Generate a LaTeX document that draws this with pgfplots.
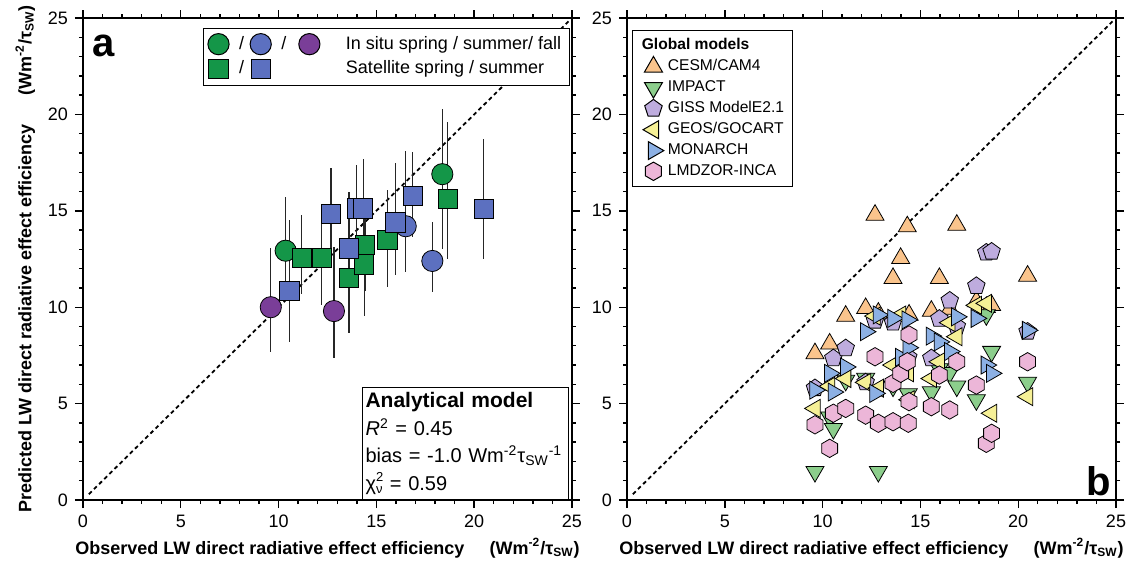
\documentclass[border=0pt]{standalone}
\usepackage{fontspec}
\setmainfont{Liberation Sans}
\usepackage{pgfplots}
\usepackage{pgfplotstable}
\pgfplotsset{compat=1.18}

\definecolor{isgreen}{RGB}{20,150,72}
\definecolor{isblue}{RGB}{92,112,192}
\definecolor{ispurple}{RGB}{122,62,152}
\definecolor{cesm}{RGB}{250,196,140}
\definecolor{impact}{RGB}{140,206,140}
\definecolor{giss}{RGB}{190,172,222}
\definecolor{geos}{RGB}{246,240,150}
\definecolor{monarch}{RGB}{140,176,228}
\definecolor{lmdz}{RGB}{236,182,216}

% hexagon mark for LMDZOR-INCA
\pgfdeclareplotmark{hexagon*}{%
  \pgfpathmoveto{\pgfqpointpolar{90}{\pgfplotmarksize}}%
  \pgfpathlineto{\pgfqpointpolar{150}{\pgfplotmarksize}}%
  \pgfpathlineto{\pgfqpointpolar{210}{\pgfplotmarksize}}%
  \pgfpathlineto{\pgfqpointpolar{270}{\pgfplotmarksize}}%
  \pgfpathlineto{\pgfqpointpolar{330}{\pgfplotmarksize}}%
  \pgfpathlineto{\pgfqpointpolar{30}{\pgfplotmarksize}}%
  \pgfpathclose
  \pgfusepathqfillstroke}

% panel a: in situ (circles) and satellite (squares), x y err+ err-
\pgfplotstableread{
x y ep em
10.36 12.93 2.80 2.50
18.37 16.90 3.40 3.90
}\insitugreen
\pgfplotstableread{
x y ep em
16.50 14.20 3.90 2.36
17.86 12.40 2.00 1.60
}\insitublue
\pgfplotstableread{
x y ep em
9.60 10.00 3.05 2.30
12.83 9.80 3.30 2.45
}\insitupurple
\pgfplotstableread{
x y ep em
11.18 12.55 2.23 1.85
12.20 12.55 1.97 2.45
13.60 11.50 4.50 2.85
14.42 13.23 2.30 2.40
14.38 12.22 2.50 2.70
15.56 13.50 2.60 2.44
18.64 15.60 4.00 3.10
}\satgreen
\pgfplotstableread{
x y ep em
10.55 10.86 3.66 2.66
12.68 14.82 2.38 2.42
13.60 13.05 2.40 2.40
13.99 15.13 2.27 2.23
14.33 15.13 2.57 2.63
15.97 14.40 3.10 2.73
16.86 15.77 2.30 2.11
20.48 15.08 3.62 2.58
}\satblue

% panel b: global models
\pgfplotstableread{
x y
9.61 7.60
10.36 8.10
11.18 9.54
12.20 9.94
12.68 14.78
12.85 9.70
13.60 11.50
13.99 12.54
14.33 14.18
14.42 9.60
15.56 9.80
15.97 11.50
16.50 9.90
16.86 14.26
17.86 10.30
18.37 10.00
18.64 10.10
20.48 11.62
}\cesmtab
\pgfplotstableread{
x y
9.61 1.47
10.36 4.30
10.55 3.70
11.18 6.20
12.20 6.30
12.85 1.47
13.60 5.90
13.99 6.60
14.38 5.50
15.56 5.60
15.97 6.80
16.50 6.60
16.86 5.90
17.86 5.19
18.37 9.60
18.64 7.70
20.48 6.10
}\impacttab
\pgfplotstableread{
x y
9.61 5.80
10.55 7.35
11.18 7.87
12.20 6.10
12.68 9.30
13.60 9.20
14.38 7.40
15.56 7.35
15.97 9.40
16.50 10.34
16.86 9.00
17.86 11.10
18.37 12.83
18.64 12.88
20.48 8.73
}\gisstab
\pgfplotstableread{
x y
9.61 4.75
10.36 5.90
11.18 6.30
12.20 6.10
12.68 9.54
12.85 5.80
13.60 7.00
13.99 9.60
14.38 6.60
14.42 5.20
15.56 6.30
15.97 7.17
16.50 9.20
16.86 8.47
17.86 10.10
18.37 10.20
18.64 4.50
20.48 5.36
}\geostab
\pgfplotstableread{
x y
9.61 5.70
10.36 6.57
10.55 5.60
11.18 6.90
12.20 8.73
12.68 5.53
12.85 9.60
13.60 9.42
13.99 7.40
14.33 9.34
14.38 7.90
15.56 8.50
15.97 8.20
16.50 7.70
16.86 9.50
17.86 9.42
18.37 7.00
18.64 6.57
20.48 8.80
}\monarchtab
\pgfplotstableread{
x y
9.61 3.90
10.36 2.68
10.55 4.50
11.18 4.75
12.20 4.40
12.68 7.43
12.85 3.98
13.60 4.06
13.60 6.05
13.99 6.57
14.33 7.17
14.38 3.98
14.42 5.10
14.42 8.56
15.56 4.84
15.97 6.48
16.50 4.67
16.86 7.17
17.86 5.96
18.37 2.94
18.64 3.46
20.48 7.17
}\lmdztab

\pgfplotsset{
  panel/.style={
    width=244.5pt, height=241pt, scale only axis,
    xmin=0, xmax=25, ymin=0, ymax=25,
    xtick={0,5,...,25}, ytick={0,5,...,25}, minor tick num=4,
    tick align=outside, major tick length=4pt, minor tick length=2pt,
    axis line style={line width=0.7pt},
    every tick/.style={black, line width=0.7pt},
    ticklabel style={font=\fontsize{9}{10}\selectfont},
    /pgf/number format/assume math mode=true,
    label style={font=\bfseries\fontsize{9}{10}\selectfont},
    xlabel={Observed LW direct radiative effect efficiency\hspace{1.4em}(Wm\textsuperscript{-2}/τ\textsubscript{SW})},
    xlabel style={at={(axis description cs:0.5,-0.1)}, anchor=center},
  },
  oneone/.style={black, line width=0.9pt, dash pattern=on 2pt off 1.6pt},
  bars/.style={only marks, mark=none, forget plot,
    error bars/.cd, y dir=both, y explicit, error mark=none,
    error bar style={black!85, line width=0.7pt}},
  obs/.style={only marks, mark size=5.3pt, mark options={draw=black, line width=0.9pt}},
  mdl/.style={only marks, mark options={draw=black, line width=1.1pt}},
}

\begin{document}
\begin{tikzpicture}
\useasboundingbox (-41.5pt,-35pt) rectangle (524pt,250pt);

% ---- panel a ----
\begin{axis}[panel,
  ylabel={Predicted LW direct radiative effect efficiency\hspace{1.6em}(Wm\textsuperscript{-2}/τ\textsubscript{SW})},
  ylabel style={at={(axis description cs:-0.118,0.5)}, anchor=center},
  legend columns=3,
  legend style={at={(0.995,0.98)}, anchor=north east, draw=black, line width=0.5pt,
    font=\fontsize{9}{10}\selectfont, row sep=0pt, inner sep=2pt,
    /tikz/every even column/.append style={column sep=1pt},
    /tikz/every odd column/.append style={column sep=3pt}},
  legend cell align=left,
]
\addplot[oneone, forget plot] coordinates {(0.3,0.3) (25,25)};

\addplot[bars] table[x=x, y=y, y error plus=ep, y error minus=em] {\insitugreen};
\addplot[bars] table[x=x, y=y, y error plus=ep, y error minus=em] {\insitublue};
\addplot[bars] table[x=x, y=y, y error plus=ep, y error minus=em] {\insitupurple};
\addplot[bars] table[x=x, y=y, y error plus=ep, y error minus=em] {\satgreen};
\addplot[bars] table[x=x, y=y, y error plus=ep, y error minus=em] {\satblue};

\addplot[obs, mark=*, mark options={fill=isgreen}] table[x=x, y=y] {\insitugreen};
\addlegendentry{/}
\addplot[obs, mark=*, mark options={fill=isblue}] table[x=x, y=y] {\insitublue};
\addlegendentry{/}
\addplot[obs, mark=*, mark options={fill=ispurple}] table[x=x, y=y] {\insitupurple};
\addlegendentry{\hspace{8pt}In situ spring / summer/ fall}
\addplot[obs, mark=square*, mark size=4.8pt, mark options={fill=isgreen}] table[x=x, y=y] {\satgreen};
\addlegendentry{/}
\addplot[obs, mark=square*, mark size=4.8pt, mark options={fill=isblue}] table[x=x, y=y] {\satblue};
\addlegendentry{\strut}
\addlegendimage{empty legend}
\addlegendentry{\hspace{8pt}Satellite spring / summer}

\node[font=\bfseries\fontsize{20}{20}\selectfont] at (axis cs:1.05,23.55) {a};
\node[draw=black, line width=0.5pt, anchor=south east, align=left,
  minimum width=103pt, minimum height=56pt, text width=100pt, inner sep=1.5pt,
  font=\fontsize{10}{13.75}\selectfont] at (axis cs:24.85,0)
  {\textbf{\fontsize{10.5}{13.75}\selectfont Analytical model}\\
   \textit{R}\textsuperscript{2} = 0.45\\
   \mbox{bias = -1.0 Wm\textsuperscript{-2}τ\textsubscript{SW}\textsuperscript{-1}}\\
   χ\raisebox{-0.35ex}{\fontsize{6.5}{5.5}\selectfont\shortstack[l]{2\\ν}} = 0.59};
\end{axis}

% ---- panel b ----
\begin{axis}[panel, at={(272pt,0pt)},
  legend style={at={(0.01,0.975)}, anchor=north west, draw=black, line width=0.5pt,
    font=\fontsize{7.8}{9}\selectfont, row sep=-0.6pt, inner sep=2pt},
  legend cell align=left,
]
\addlegendimage{empty legend}
\addlegendentry{\hspace*{-13pt}\textbf{Global models}}
\addplot[oneone, forget plot] coordinates {(0.3,0.3) (25,25)};

\addplot[mdl, mark=triangle*, mark size=5.2pt, mark options={fill=cesm}] table[x=x, y=y] {\cesmtab};
\addlegendentry{CESM/CAM4}
\addplot[mdl, mark=triangle*, mark size=5.2pt, mark options={fill=impact, rotate=180}] table[x=x, y=y] {\impacttab};
\addlegendentry{IMPACT}
\addplot[mdl, mark=pentagon*, mark size=4.6pt, mark options={fill=giss}] table[x=x, y=y] {\gisstab};
\addlegendentry{GISS ModelE2.1}
\addplot[mdl, mark=triangle*, mark size=5.2pt, mark options={fill=geos, rotate=90}] table[x=x, y=y] {\geostab};
\addlegendentry{GEOS/GOCART}
\addplot[mdl, mark=triangle*, mark size=5.2pt, mark options={fill=monarch, rotate=-90}] table[x=x, y=y] {\monarchtab};
\addlegendentry{MONARCH}
\addplot[mdl, mark=hexagon*, mark size=4.6pt, mark options={fill=lmdz}] table[x=x, y=y] {\lmdztab};
\addlegendentry{LMDZOR-INCA}

\node[font=\bfseries\fontsize{20}{20}\selectfont] at (axis cs:24.1,0.95) {b};
\end{axis}
\end{tikzpicture}
\end{document}
